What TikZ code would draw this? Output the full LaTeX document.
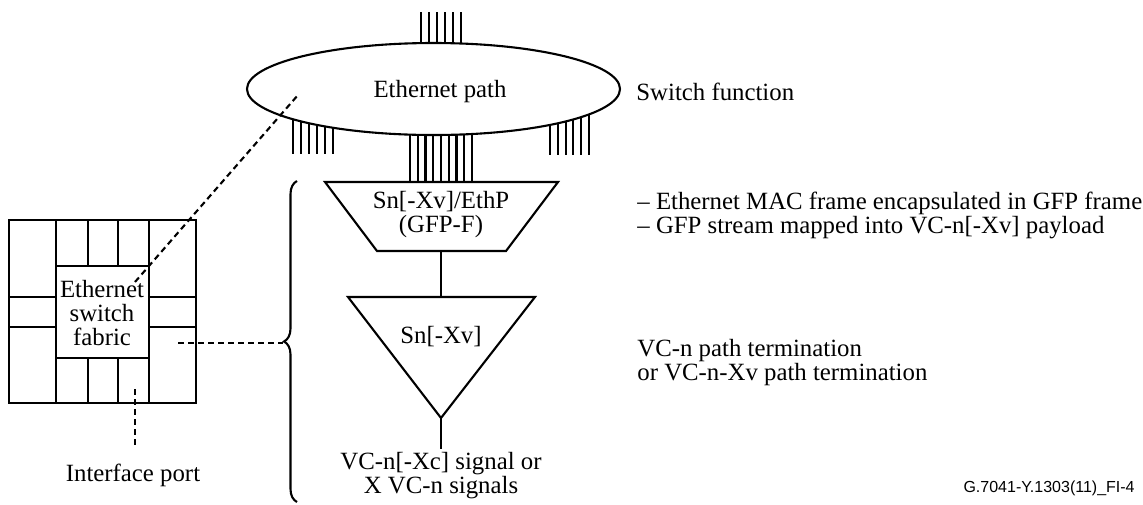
\documentclass[tikz,border=0pt]{standalone}
\usepackage{fontspec}
\setmainfont{Liberation Serif}
\newfontfamily\figidfont{Liberation Sans}
\usetikzlibrary{shapes.geometric, decorations.pathreplacing}

\tikzset{
  wire/.style={line width=1.05pt},
  dashwire/.style={line width=1.05pt, dash pattern=on 3pt off 2pt},
  txt/.style={inner sep=0pt, font=\fontsize{12.4}{12}\selectfont},
}

\begin{document}
\begin{tikzpicture}[x=0.5pt, y=-0.5pt, line join=miter]
  \useasboundingbox (0,0) rectangle (1143,504);
  % port ticks round the switch function
  \foreach \x in {421,429,...,461} \draw[wire] (\x,12) -- (\x,70);
  \foreach \x in {293,301,...,333} \draw[wire] (\x,100) -- (\x,154);
  \foreach \x in {550,557.8,...,590} \draw[wire] (\x,100) -- (\x,155);
  \foreach \x in {410,417.75,...,473} \draw[wire] (\x,100) -- (\x,182);
  \node[ellipse, draw, wire, fill=white, minimum width=186.5pt, minimum height=46pt, inner sep=0pt] (ethpath) at (433.5,89) {};
  \node[txt] (ethpathtxt) at (440,92) {Ethernet path};
  \node[txt, anchor=west] (swfunc) at (636,92) {Switch function};

  % adaptation and termination
  \draw[wire] (325,182) -- (558,182) -- (506,251) -- (377,251) -- cycle;
  \coordinate (trapB) at (441,251);
  \coordinate (triT) at (441,297);
  \coordinate (triA) at (441,418);
  \coordinate (sigT) at (441,449);
  \draw[wire] (348,297) -- (535,297) -- (triA) -- cycle;
  \draw[wire] (trapB) -- (triT);
  \draw[wire] (triA) -- (sigT);
  \node[txt, align=center] (adapt) at (441,215) {Sn[-Xv]/EthP\\(GFP-F)};
  \node[txt] (term) at (441,337) {Sn[-Xv]};
  \node[txt, align=center] (signal) at (441,476) {VC-n[-Xc] signal or\\X VC-n signals};
  \node[txt, anchor=west, align=left] (adaptnote) at (637,215) {-- Ethernet MAC frame encapsulated in GFP frame\\-- GFP stream mapped into VC-n[-Xv] payload};
  \node[txt, anchor=west, align=left] (termnote) at (637,362.5) {VC-n path termination\\or VC-n-Xv path termination};

  % brace
  \draw[wire, decorate, decoration={brace, amplitude=6.5pt}] (297,502) -- (297,181);
  \coordinate (braceTip) at (283,343);

  % switch fabric
  \draw[wire] (9,220) rectangle (196,403);
  \draw[wire] (56,266) rectangle (149,358);
  \foreach \x in {56,88,118,149} {
    \draw[wire] (\x,220) -- (\x,266);
    \draw[wire] (\x,358) -- (\x,403);
  }
  \foreach \y in {297,327} {
    \draw[wire] (9,\y) -- (56,\y);
    \draw[wire] (149,\y) -- (196,\y);
  }
  \node[txt, align=center] (fabric) at (102,313) {Ethernet\\switch\\fabric};
  \coordinate (fabricPt) at (135,282);
  \coordinate (ethpathPt) at (298,95);
  \coordinate (portPt) at (178,343);
  \coordinate (portTop) at (135,389);
  \coordinate (portBot) at (135,447);
  \draw[dashwire] (fabricPt) -- (ethpathPt);
  \draw[dashwire] (portPt) -- (braceTip);
  \draw[dashwire] (portTop) -- (portBot);
  \node[txt] (port) at (133,475) {Interface port};

  \node[inner sep=0pt, anchor=east, font=\figidfont\fontsize{8}{9}\selectfont] (figid) at (1135,488) {G.7041-Y.1303(11)\_FI-4};
\end{tikzpicture}
\end{document}
